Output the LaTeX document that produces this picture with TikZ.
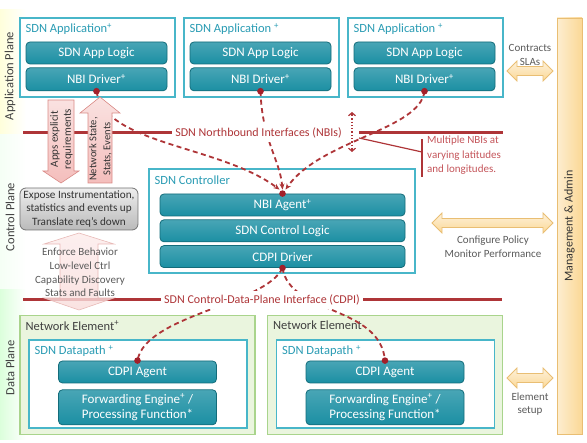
\documentclass[tikz,border=0pt]{standalone}
\usepackage{fontspec}
\setmainfont{Carlito}
\usetikzlibrary{arrows.meta,positioning,calc}
\definecolor{tealbox}{HTML}{1B8FA3}
\definecolor{tealdark}{HTML}{136C7A}
\definecolor{tealline}{HTML}{48B6C9}
\definecolor{tealtxt}{HTML}{2A9CB4}
\definecolor{ifred}{HTML}{AE3538}
\definecolor{dotred}{HTML}{A3202A}
\definecolor{noteRed}{HTML}{C4555A}
\definecolor{txtgray}{HTML}{5A5A5A}
\definecolor{negreen}{HTML}{EAF5DE}
\definecolor{neline}{HTML}{A9D48C}
\definecolor{mgmtfill}{HTML}{FBD896}
\definecolor{mgmtline}{HTML}{E9BE73}
\definecolor{pinkfill}{HTML}{F4BEBC}
\definecolor{pinkline}{HTML}{D98A86}

% fat double arrow towards the admin bar: left x, right x, y
\newcommand{\mgmtArrow}[3]{%
  \path[mgmtarrow] (#1,#3) -- ({#1+10},{#3-10}) -- ({#1+10},{#3-4.5})
    -- ({#2-10},{#3-4.5}) -- ({#2-10},{#3-10}) -- (#2,#3)
    -- ({#2-10},{#3+10}) -- ({#2-10},{#3+4.5}) -- ({#1+10},{#3+4.5})
    -- ({#1+10},{#3+10}) -- cycle;}

\begin{document}
\begin{tikzpicture}[x=1pt, y=-1pt,
  stackbox/.style = {draw=tealdark, line width=0.8pt, top color=tealbox!80!white,
    bottom color=tealbox, rounded corners=4pt, text=white,
    font=\fontsize{13}{15}\selectfont, inner sep=0pt, minimum height=22pt, align=center},
  outerbox/.style = {draw=tealline, line width=1.2pt, fill=white, inner sep=0pt},
  nebox/.style = {draw=neline, line width=1.2pt, fill=negreen, inner sep=0pt},
  boxtitle/.style = {anchor=north west, inner sep=0pt, text=tealtxt,
    font=\fontsize{12.5}{14}\selectfont},
  iface/.style = {draw=ifred, line width=3pt},
  ifacelbl/.style = {fill=white, text=ifred, font=\fontsize{12}{14}\selectfont, inner sep=3.5pt},
  link/.style = {draw=ifred, line width=1.8pt, dash pattern=on 5pt off 3.5pt},
  note/.style = {text=txtgray, font=\fontsize{11}{13.6}\selectfont, align=center, inner sep=0pt},
  planelbl/.style = {rotate=90, text=black!75, font=\fontsize{12.5}{14}\selectfont},
  fatpink/.style = {draw=pinkline, line width=0.6pt, top color=pinkfill!45!white, bottom color=pinkfill},
  mgmtarrow/.style = {draw=mgmtline, line width=0.8pt, top color=mgmtfill!35!white, bottom color=mgmtfill},
  ]

  \useasboundingbox (0,0) rectangle (587,443);

  % plane bands
  \fill[left color=yellow!14, right color=white] (0,10) rectangle (26,135);
  \fill[left color=green!4, right color=white] (0,135) rectangle (26,290);
  \fill[left color=green!14, right color=white] (0,290) rectangle (26,440);
  \node[planelbl] (appPlane) at (10,76) {Application Plane};
  \node[planelbl] (ctlPlane) at (10,217) {Control Plane};
  \node[planelbl] (dataPlane) at (10,368) {Data Plane};

  % applications
  \foreach \n/\x/\sp in {A/20/,B/184/\space,C/348/\space}{
    \node[outerbox, minimum width=155pt, minimum height=79pt] (app\n) at ({\x+77.5},57.5) {};
    \node[boxtitle] at ([xshift=6pt,yshift=-6pt]app\n.north west) {SDN Application\sp\textsuperscript{+}};
    \node[stackbox, minimum width=141pt] (logic\n) at ({\x+76.5},53) {SDN App Logic};
    \node[stackbox, minimum width=141pt, minimum height=23pt, below=3pt of logic\n] (drv\n) {NBI Driver\textsuperscript{+}};
  }

  % controller
  \node[outerbox, minimum width=266pt, minimum height=104pt] (ctrl) at (282,221) {};
  \node[boxtitle] at ([xshift=6pt,yshift=-7pt]ctrl.north west) {SDN Controller};
  \node[stackbox, minimum width=245pt] (agentNBI) at (282.5,205) {NBI Agent\textsuperscript{+}};
  \node[stackbox, minimum width=245pt, below=3pt of agentNBI] (ctlLogic) {SDN Control Logic};
  \node[stackbox, minimum width=245pt, below=3pt of ctlLogic] (drvCDPI) {CDPI Driver};

  % network elements
  \foreach \n/\x/\sp in {A/137.5/\textsuperscript{+},B/385/}{
    \node[nebox, minimum width=235pt, minimum height=119pt] (ne\n) at (\x,375) {};
    \node[boxtitle, text=black!75] at ([xshift=6pt,yshift=-6pt]ne\n.north west) {Network Element\sp};
    \node[outerbox, minimum width=218pt, minimum height=88pt] (dp\n) at ({\x+0.5},384) {};
    \node[boxtitle] at ([xshift=6pt,yshift=-6pt]dp\n.north west) {SDN Datapath \textsuperscript{+}};
    \node[stackbox, minimum width=158pt] (agent\n) at (\x,372) {CDPI Agent};
    \node[stackbox, minimum width=158pt, minimum height=35pt, below=6pt of agent\n,
      font=\fontsize{13}{15.5}\selectfont] (fwd\n) {Forwarding Engine\textsuperscript{+} /\\Processing Function*};
  }

  % admin bar
  \node[draw=mgmtline, line width=0.8pt, left color=mgmtfill!45!white, right color=mgmtfill,
    minimum width=25pt, minimum height=416pt, inner sep=0pt] (mgmt) at (569.5,226) {};
  \node[planelbl, text=black!80, font=\fontsize{12}{14}\selectfont] at (mgmt.center) {Management \& Admin};

  % instrumentation box
  \node[draw=black!55, line width=0.8pt, rounded corners=6pt, top color=black!7, bottom color=black!27,
    minimum width=118pt, minimum height=42pt, font=\fontsize{11.2}{13.5}\selectfont, text=black!80,
    align=center, inner sep=0pt] (expose) at (79,209)
    {Expose Instrumentation,\\statistics and events up\\Translate req's down};

  % dashed links
  \draw[link, -{Stealth[length=6pt,width=5pt]}] (drvA.south) .. controls (105,145) and (220,145) .. ([xshift=-3pt,yshift=4pt]agentNBI.north);
  \draw[link, -{Stealth[length=6pt,width=5pt]}] (drvB.south) .. controls (262,140) and (280,160) .. ([yshift=4pt]agentNBI.north);
  \draw[link, -{Stealth[length=6pt,width=5pt]}] (drvC.south) .. controls (420,130) and (320,140) .. ([xshift=3pt,yshift=4pt]agentNBI.north);
  \draw[link] (drvCDPI.south) .. controls (265,305) and (145,315) .. (agentA.north);
  \draw[link] (drvCDPI.south) .. controls (290,315) and (380,305) .. (agentB.north);

  % interfaces
  \coordinate (nbiL) at (23,133);
  \coordinate (nbiM) at (359,133);
  \coordinate (nbiR) at (503,133);
  \coordinate (cdpiL) at (23,300);
  \coordinate (cdpiR) at (502,300);
  \node[ifacelbl] (nbiLbl) at (258.5,133) {SDN Northbound Interfaces (NBIs)};
  \node[ifacelbl] (cdpiLbl) at (262,300) {SDN Control-Data-Plane Interface (CDPI)};
  \draw[iface] (nbiL) -- (nbiLbl.west);
  \draw[iface] (nbiM) -- (nbiR);
  \draw[iface] (cdpiL) -- (cdpiLbl.west);
  \draw[iface] (cdpiLbl.east) -- (cdpiR);

  % callout
  \coordinate (calloutA) at (359,138);
  \coordinate (calloutB) at (422,152);
  \coordinate (calloutT) at (422,139);
  \coordinate (calloutD) at (422,177);
  \draw[ifred, line width=1.2pt] (calloutA) -- (calloutB);
  \draw[ifred, line width=1.2pt] (calloutT) -- (calloutD);
  \node[anchor=north west, text=noteRed, font=\fontsize{11}{14.5}\selectfont, align=left, inner sep=0pt]
    (multiNote) at (427,136) {Multiple NBIs at\\varying latitudes\\and longitudes.};
  \coordinate (latTop) at (352,112);
  \coordinate (latBot) at (352,152);
  \draw[ifred, line width=1.3pt, dotted, shorten <=3pt, shorten >=3pt] (latTop) -- (latBot);
  \draw[ifred, line width=1.2pt, -{Straight Barb[length=3pt,width=7pt]}] ([yshift=-4pt]latTop) -- (latTop);
  \draw[ifred, line width=1.2pt, -{Straight Barb[length=3pt,width=7pt]}] ([yshift=4pt]latBot) -- (latBot);

  % requirement / state arrows
  \path[fatpink] (48,100) -- (74,100) -- (74,171) -- (79,171) -- (61,183) -- (43,171) -- (48,171) -- cycle;
  \path[fatpink] (88,183) -- (112,183) -- (112,113) -- (120,113) -- (100,97) -- (80,113) -- (88,113) -- cycle;
  \node[rotate=90, font=\fontsize{11}{13}\selectfont, text=black!80, align=center, inner sep=0pt]
    (appsReq) at (61.5,139) {Apps explicit\\requirements};
  \node[rotate=90, font=\fontsize{10.5}{14}\selectfont, text=black!80, align=center, inner sep=0pt]
    (netState) at (100.5,149) {Network State,\\Stats, Events};

  % southbound arrow
  \path[fatpink, draw=pinkline!60, top color=pinkfill!30!white, bottom color=pinkfill!55!white, fill opacity=0.8]
    (60,244) -- (60,298) -- (44,298) -- (79,310) -- (114,298) -- (98,298) -- (98,244)
    -- (114,244) -- (79,233) -- (44,244) -- cycle;
  \node[note] (enforce) at (80,272.5) {Enforce Behavior\\Low-level Ctrl\\Capability Discovery\\Stats and Faults};

  % management arrows
  \mgmtArrow{507}{553}{71}
  \mgmtArrow{432}{553}{223}
  \mgmtArrow{507}{553}{378}
  \node[note] (contracts) at (530,55) {Contracts\\SLAs};
  \node[note] (configure) at (493,246.5) {Configure Policy\\Monitor Performance};
  \node[note] (elemSetup) at (530,404) {Element\\setup};

  % attachment points
  \foreach \p in {drvA.south, drvB.south, drvC.south, agentNBI.north, drvCDPI.south, agentA.north, agentB.north}
    \fill[dotred] (\p) circle[radius=3.3pt];

\end{tikzpicture}
\end{document}
